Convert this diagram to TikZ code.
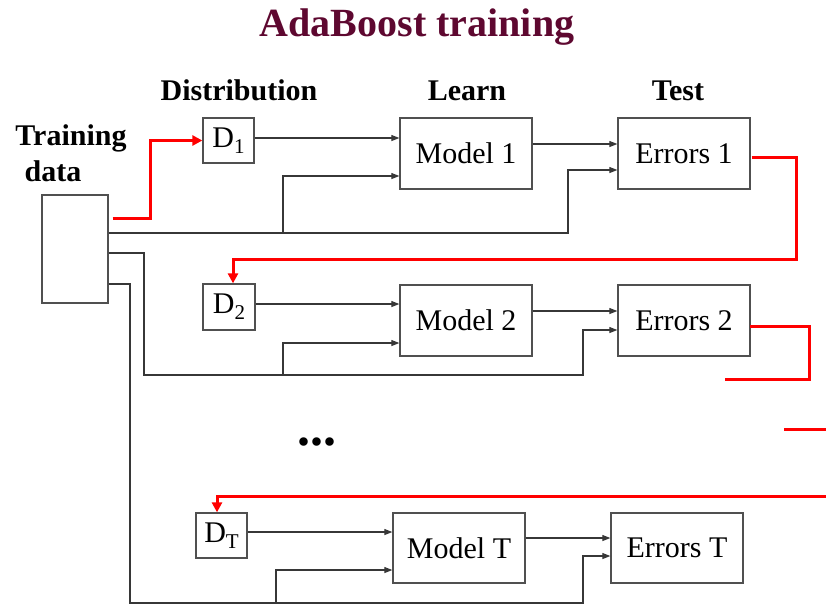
\documentclass[tikz,border=0pt]{standalone}
\usepackage{fontspec}
\setmainfont{Liberation Serif}
\usetikzlibrary{arrows.meta,calc}
\definecolor{titlecol}{RGB}{94,8,48}
\definecolor{linecol}{RGB}{55,55,55}
\definecolor{boxcol}{RGB}{80,80,80}
\newcommand{\Dsub}[1]{D\raisebox{-0.45ex}{\fontsize{21}{21}\selectfont #1}}
\begin{document}
\begin{tikzpicture}[x=1pt,y=-1pt,
  box/.style={draw=boxcol,line width=1.3pt,inner sep=0pt,font=\fontsize{30}{35}\selectfont},
  dbox/.style={box,minimum width=51pt,minimum height=45pt},
  mbox/.style={box,minimum width=132pt,minimum height=71pt},
  conn/.style={draw=linecol,line width=1.1pt,-{Triangle[length=8pt,width=6pt]}},
  redc/.style={draw=red,line width=3pt},
  reda/.style={redc,-{Triangle[length=10pt,width=10pt]}},
  head/.style={anchor=base,font=\fontsize{30}{35}\selectfont\bfseries}
]
\useasboundingbox (0,0) rectangle (826,606);

% title and headers
\node[anchor=base,text=titlecol,font=\fontsize{40}{46}\selectfont\bfseries] (title) at (417,36) {AdaBoost training};
\node[head] (hdist) at (239,100) {Distribution};
\node[head] (hlearn) at (467,100) {Learn};
\node[head] (htest) at (678,100) {Test};
\node[head] (htrain) at (71,145) {Training};
\node[head] (hdata) at (53,181) {data};

% boxes
\node[box,minimum width=66pt,minimum height=108pt] (td) at (75,249) {};
\node[dbox] (d1) at (228.5,140.5) {\Dsub{1}};
\node[mbox] (m1) at (466,153.5) {Model 1};
\node[mbox] (e1) at (684,153.5) {Errors 1};
\node[dbox,minimum width=52pt,minimum height=46pt] (d2) at (229,307) {\Dsub{2}};
\node[mbox] (m2) at (466,320.5) {Model 2};
\node[mbox] (e2) at (684,320.5) {Errors 2};
\node[dbox] (dt) at (221.5,535.5) {\Dsub{T}};
\node[mbox,minimum height=70pt] (mt) at (459,548) {Model T};
\node[mbox,minimum height=70pt] (et) at (677,548) {Errors T};

\node[anchor=base west,font=\fontsize{52}{52}\selectfont\bfseries] (dots) at (294,445) {...};

% free ends of red connectors
\coordinate (c1) at (725,379);
\coordinate (c2) at (784,429);
\coordinate (c3) at (826,429);
\coordinate (c4) at (826,496);

% row 1
\draw[conn] ($(d1.east)+(0,-2.5)$) -- ($(m1.west)+(0,-15.5)$);
\draw[conn] ($(m1.east)+(0,-9.5)$) -- ($(e1.west)+(0,-9.5)$);
\draw[conn] ($(td.east)+(0,-16)$) -- (568,233) -- (568,170) -- ($(e1.west)+(0,16.5)$);
\draw[conn] (283,233) -- (283,176) -- ($(m1.west)+(0,22.5)$);

% row 2
\draw[conn] ($(d2.east)+(0,-3)$) -- ($(m2.west)+(0,-16.5)$);
\draw[conn] ($(m2.east)+(0,-9.5)$) -- ($(e2.west)+(0,-9.5)$);
\draw[conn] ($(td.east)+(0,4)$) -- (144,253) -- (144,375) -- (583,375) -- (583,330) -- ($(e2.west)+(0,9.5)$);
\draw[conn] (283,375) -- (283,343) -- ($(m2.west)+(0,22.5)$);

% row T
\draw[conn] ($(dt.east)+(0,-3.5)$) -- ($(mt.west)+(0,-16)$);
\draw[conn] ($(mt.east)+(0,-10)$) -- ($(et.west)+(0,-10)$);
\draw[conn] ($(td.east)+(0,35)$) -- (130,284) -- (130,603) -- (583,603) -- (583,556) -- ($(et.west)+(0,8)$);
\draw[conn] (276,603) -- (276,570) -- ($(mt.west)+(0,22)$);

% red feedback connectors
\draw[reda] ($(td.east)+(4,-31)$) -- (150,218) -- (150,140.5) -- (d1.west);
\draw[reda] ($(e1.east)+(1,3.5)$) -- (796,157) -- (796,259) -- (233,259) -- ($(d2.north)+(4,0)$);
\draw[redc] ($(e2.east)+(-1,5.5)$) -- (809,326) -- (809,379) -- (c1);
\draw[redc] (c2) -- (c3);
\draw[reda] (c4) -- (217,496) -- ($(dt.north)+(-4.5,0)$);
\end{tikzpicture}
\end{document}
